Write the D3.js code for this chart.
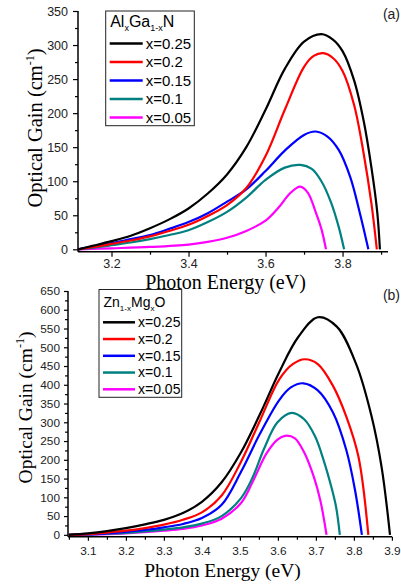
<!DOCTYPE html>
<html>
<head>
<meta charset="utf-8">
<script src="https://cdn.jsdelivr.net/npm/d3@7"></script>
<style>
  body { margin: 0; background: #fff; }
  svg { display: block; }
</style>
</head>
<body>
<svg id="chart" width="401" height="585"></svg>
<script>
// legend text and colours, same order for both panels
const seriesLabels = ["x=0.25", "x=0.2", "x=0.15", "x=0.1", "x=0.05"];
const seriesColors = ["#000000", "#ff0000", "#0000ff", "#008080", "#ff00ff"];

// (a) AlxGa1-xN : [photon energy (eV), optical gain (cm-1)]
const alGaN25 = [[3.113,0],[3.15,5],[3.2,12],[3.25,20],[3.3,31],[3.35,44],[3.4,60],[3.45,82],[3.5,110],[3.55,150],[3.6,205],[3.65,265],[3.7,305],[3.745,316],[3.775,308],[3.8,291],[3.83,248],[3.855,188],[3.875,120],[3.89,55],[3.897,0]];
const alGaN20 = [[3.113,0],[3.15,3],[3.2,8],[3.25,13],[3.3,19],[3.35,27],[3.4,36],[3.45,49],[3.5,65],[3.55,90],[3.6,137],[3.65,205],[3.7,268],[3.725,284],[3.75,288],[3.775,281],[3.8,262],[3.83,212],[3.855,140],[3.875,67],[3.889,0]];
const alGaN15 = [[3.113,0],[3.15,4],[3.2,9],[3.25,15],[3.3,21],[3.35,30],[3.4,40],[3.45,53],[3.5,70],[3.55,88],[3.6,115],[3.65,145],[3.7,168],[3.73,173],[3.76,166],[3.79,146],[3.82,106],[3.845,53],[3.867,0]];
const alGaN10 = [[3.113,0],[3.15,2],[3.2,6],[3.25,10],[3.3,15],[3.35,21],[3.4,28],[3.45,40],[3.5,55],[3.55,76],[3.6,102],[3.65,120],[3.69,124],[3.72,118],[3.745,100],[3.77,69],[3.79,33],[3.804,0]];
const alGaN05 = [[3.113,0],[3.2,1.5],[3.3,3.5],[3.4,7],[3.45,11],[3.5,17],[3.55,27],[3.6,42],[3.635,62],[3.665,83],[3.69,92],[3.71,83],[3.73,55],[3.745,30],[3.757,0]];

// (b) Zn1-xMgxO
const znMgO25 = [[3.05,0],[3.1,4],[3.15,10],[3.2,18],[3.25,28],[3.3,40],[3.35,58],[3.4,88],[3.452,140],[3.503,220],[3.553,322],[3.604,435],[3.654,528],[3.705,580],[3.755,555],[3.806,455],[3.846,318],[3.873,180],[3.895,0]];
const znMgO20 = [[3.05,0],[3.1,2],[3.15,6],[3.2,11],[3.25,18],[3.3,27],[3.35,40],[3.4,60],[3.452,105],[3.503,195],[3.553,305],[3.604,415],[3.639,455],[3.671,468],[3.705,455],[3.745,397],[3.78,315],[3.812,208],[3.838,0]];
const znMgO15 = [[3.05,0],[3.1,1],[3.15,4],[3.2,8],[3.25,13],[3.3,20],[3.35,29],[3.4,45],[3.452,80],[3.503,168],[3.553,270],[3.604,360],[3.634,393],[3.667,404],[3.705,385],[3.745,326],[3.78,226],[3.803,119],[3.821,0]];
const znMgO10 = [[3.05,0],[3.1,1],[3.15,3],[3.2,5],[3.25,9],[3.3,14],[3.35,20],[3.4,30],[3.452,50],[3.503,98],[3.533,152],[3.563,228],[3.599,300],[3.636,325],[3.669,308],[3.698,262],[3.72,200],[3.74,130],[3.753,75],[3.763,0]];
const znMgO05 = [[3.05,0],[3.1,1],[3.15,2],[3.2,4],[3.25,7],[3.3,11],[3.35,16],[3.4,25],[3.452,43],[3.503,85],[3.533,140],[3.57,217],[3.599,254],[3.619,264],[3.644,258],[3.669,220],[3.695,153],[3.712,90],[3.728,0]];

// tick values
const aXMajor = [3.2, 3.4, 3.6, 3.8];
const aXMinor = [3.3, 3.5, 3.7, 3.9];
const aYMajor = [0, 50, 100, 150, 200, 250, 300, 350];
const aYMinor = [25, 75, 125, 175, 225, 275, 325];
const bXMajor = [3.1, 3.2, 3.3, 3.4, 3.5, 3.6, 3.7, 3.8, 3.9];
const bXMinor = [3.05, 3.15, 3.25, 3.35, 3.45, 3.55, 3.65, 3.75, 3.85];
const bYMajor = d3.range(0, 651, 50);
const bYMinor = d3.range(25, 650, 50);

const svg = d3.select("#chart");
const sans = "'Liberation Sans', Arial, sans-serif";
const serif = "'Liberation Serif', 'Times New Roman', serif";

function drawPanel(cfg) {
    const g = svg.append("g");

    const x = d3.scaleLinear().domain(cfg.xDomain).range([cfg.left, cfg.right]);
    const y = d3.scaleLinear().domain(cfg.yDomain).range([cfg.bottom, cfg.top]);

    const line = d3.line()
        .curve(d3.curveCatmullRom.alpha(0.5))
        .x(d => x(d[0]))
        .y(d => y(d[1]));

    // curves, drawn from x=0.05 up so black ends on top
    g.append("g")
        .selectAll("path")
        .data(cfg.series.map((s, i) => ({s, i})).reverse())
        .join("path")
        .attr("d", d => line(d.s))
        .attr("fill", "none")
        .attr("stroke", d => seriesColors[d.i])
        .attr("stroke-width", 2.2)
        .attr("stroke-linejoin", "round");

    // axes
    const xAxis = g.append("g")
        .attr("transform", `translate(0,${cfg.bottom})`)
        .call(d3.axisBottom(x).tickValues(cfg.xMajor).tickSize(cfg.tick).tickPadding(cfg.xPad).tickFormat(d3.format(".1f")));
    g.append("g")
        .attr("transform", `translate(0,${cfg.bottom})`)
        .call(d3.axisBottom(x).tickValues(cfg.xMinor).tickSize(3).tickFormat(""))
        .call(a => a.select(".domain").remove());

    const yAxis = g.append("g")
        .attr("transform", `translate(${cfg.axisX},0)`)
        .call(d3.axisLeft(y).tickValues(cfg.yMajor).tickSize(cfg.tick).tickPadding(cfg.yPad));
    g.append("g")
        .attr("transform", `translate(${cfg.axisX},0)`)
        .call(d3.axisLeft(y).tickValues(cfg.yMinor).tickSize(3).tickFormat(""))
        .call(a => a.select(".domain").remove());

    // plain axis lines, no outer ticks
    xAxis.select(".domain").attr("d", `M${cfg.axisX},0H${cfg.axisEnd}`);
    yAxis.select(".domain").attr("d", `M0,${cfg.bottom}V${cfg.top}`);

    g.selectAll(".domain").attr("stroke", "#000").attr("stroke-width", 1.5);
    g.selectAll(".tick line").attr("stroke", "#000").attr("stroke-width", 1.2);
    g.selectAll(".tick text")
        .attr("fill", "#222")
        .style("font-family", sans)
        .style("font-size", cfg.tickFont + "px");

    // axis titles
    g.append("text")
        .attr("x", cfg.xLabelX)
        .attr("y", cfg.xLabelY)
        .attr("text-anchor", "middle")
        .style("font-family", serif)
        .style("font-size", cfg.xLabelFont + "px")
        .text("Photon Energy (eV)");

    const yl = g.append("text")
        .attr("transform", `translate(${cfg.yLabelX},${cfg.yLabelY}) rotate(-90)`)
        .attr("text-anchor", "middle")
        .style("font-family", serif)
        .style("font-size", cfg.labelFont + "px");
    yl.append("tspan").text("Optical Gain (cm");
    yl.append("tspan").attr("dy", -8).style("font-size", "12px").text("-1");
    yl.append("tspan").attr("dy", 8).text(")");

    // panel tag
    g.append("text")
        .attr("x", 400)
        .attr("y", cfg.tagY)
        .attr("text-anchor", "end")
        .attr("fill", "#222")
        .style("font-family", sans)
        .style("font-size", "14px")
        .text(cfg.tag);

    // legend
    const L = cfg.legend;
    const lg = g.append("g");
    lg.append("rect")
        .attr("x", L.x).attr("y", L.y)
        .attr("width", L.w).attr("height", L.h)
        .attr("fill", "#fff")
        .attr("stroke", "#222")
        .attr("stroke-width", 1);

    const title = lg.append("text")
        .attr("x", L.x + 4.5)
        .attr("y", L.titleY)
        .style("font-family", sans)
        .style("font-size", L.titleFont + "px");
    L.title.forEach(p => {
        const t = title.append("tspan").text(p.t);
        if (p.sub) t.attr("dy", p.dy).style("font-size", L.subFont + "px");
        else if (p.dy) t.attr("dy", p.dy);
    });

    const items = lg.selectAll("g.item")
        .data(seriesLabels)
        .join("g")
        .attr("class", "item")
        .attr("transform", (d, i) => `translate(0,${L.firstY + i * L.step})`);
    items.append("line")
        .attr("x1", L.x + 4).attr("x2", L.x + 4 + L.lineLen)
        .attr("stroke", (d, i) => seriesColors[i])
        .attr("stroke-width", 2.5);
    items.append("text")
        .attr("x", L.x + 7 + L.lineLen)
        .attr("dy", "0.35em")
        .style("font-family", sans)
        .style("font-size", L.font + "px")
        .text(d => d);
}

drawPanel({
    series: [alGaN25, alGaN20, alGaN15, alGaN10, alGaN05],
    xDomain: [3.113, 3.918], yDomain: [-3.5, 350],
    left: 78, right: 388, axisX: 78, axisEnd: 388, top: 11, bottom: 251.7,
    xMajor: aXMajor, xMinor: aXMinor, yMajor: aYMajor, yMinor: aYMinor,
    tick: 5, xPad: 2.5, yPad: 5, tickFont: 12.5,
    labelFont: 20.5, xLabelFont: 20, xLabelX: 225.5, xLabelY: 289,
    yLabelX: 41.5, yLabelY: 128,
    tag: "(a)", tagY: 19,
    legend: {
        x: 105.7, y: 11, w: 88.6, h: 114.7,
        titleY: 27, titleFont: 16, subFont: 9,
        title: [{t: "Al"}, {t: "x", sub: true, dy: 4}, {t: "Ga", dy: -4}, {t: "1-x", sub: true, dy: 4}, {t: "N", dy: -4}],
        firstY: 43.5, step: 18.5, lineLen: 33, font: 15
    }
});

drawPanel({
    series: [znMgO25, znMgO20, znMgO15, znMgO10, znMgO05],
    xDomain: [3.05, 3.9], yDomain: [-5, 650],
    left: 68.9, right: 391.9, axisX: 68, axisEnd: 392, top: 291, bottom: 536.7,
    xMajor: bXMajor, xMinor: bXMinor, yMajor: bYMajor, yMinor: bYMinor,
    tick: 4, xPad: 6, yPad: 4, tickFont: 11.8,
    labelFont: 19.5, xLabelFont: 19.5, xLabelX: 222.5, xLabelY: 577,
    yLabelX: 31.7, yLabelY: 407.5,
    tag: "(b)", tagY: 300,
    legend: {
        x: 99, y: 289.5, w: 82.7, h: 107.8,
        titleY: 306.5, titleFont: 14, subFont: 8,
        title: [{t: "Zn"}, {t: "1-x", sub: true, dy: 4}, {t: "Mg", dy: -4}, {t: "x", sub: true, dy: 4}, {t: "O", dy: -4}],
        firstY: 322.3, step: 16.75, lineLen: 32, font: 14
    }
});
</script>
</body>
</html>
